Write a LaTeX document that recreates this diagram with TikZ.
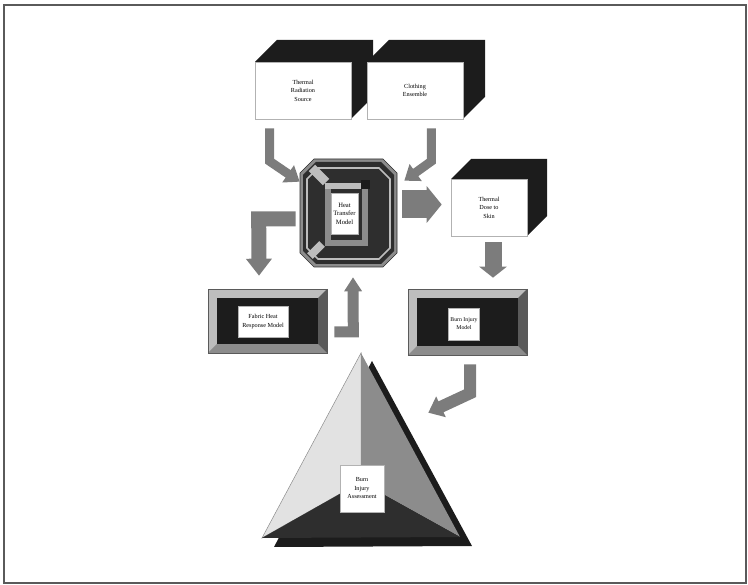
\documentclass[tikz,border=0pt]{standalone}
\usepackage{fontspec}
\setmainfont{Liberation Serif}
\usetikzlibrary{arrows.meta,calc}
\definecolor{sblack}{HTML}{1C1C1C}
\definecolor{sdark}{HTML}{2E2E2E}
\definecolor{sgrayd}{HTML}{5A5A5A}
\definecolor{sgray}{HTML}{8C8C8C}
\definecolor{slight}{HTML}{BDBDBD}
\definecolor{spale}{HTML}{E2E2E2}
\definecolor{arrgray}{HTML}{7C7C7C}
\tikzset{
  % white label face of every block
  face/.style  = {rectangle, draw=gray!60, fill=white, line width=0.6pt, align=center,
                  inner sep=0pt, font=\fontsize{6.2}{8.5}\selectfont},
  % block arrow: stem width, head width, head length
  arr/.style n args = {3}{draw=arrgray, line width=#1, line join=miter,
                  -{Triangle[width=#2, length=#3]}},
  chip/.style  = {rectangle, inner sep=0pt, fill=#1},
}
% dark back of an extruded box: front x1 y1 x2 y2, depth
\newcommand{\cubeback}[5]{%
  \fill[sblack] (#1,#2) -- ({#1+#5},{#2-#5}) -- ({#3+#5},{#2-#5}) -- ({#3+#5},{#4-#5})
    -- (#3,#4) -- (#3,#2) -- cycle;}
% bevelled frame: outer x1 y1 x2 y2, bevel
\newcommand{\bevelframe}[5]{%
  \fill[slight] (#1,#2) rectangle (#3,#4);
  \fill[sgray] (#1,#4) -- (#3,#4) -- ({#3-#5},{#4-#5}) -- ({#1+#5},{#4-#5}) -- cycle;
  \fill[sgrayd] (#3,#2) -- (#3,#4) -- ({#3-#5},{#4-#5}) -- ({#3-#5},{#2+#5}) -- cycle;
  \fill[sblack] ({#1+#5},{#2+#5}) rectangle ({#3-#5},{#4-#5});
  \draw[sgrayd, line width=0.6pt] (#1,#2) rectangle (#3,#4);}
% octagon: style, x1 y1 x2 y2, corner cut
\newcommand{\octo}[6]{%
  \path[#1] ({#2+#6},#3) -- ({#4-#6},#3) -- (#4,{#3+#6}) -- (#4,{#5-#6})
    -- ({#4-#6},#5) -- ({#2+#6},#5) -- (#2,{#5-#6}) -- (#2,{#3+#6}) -- cycle;}

\begin{document}
\begin{tikzpicture}[x=1pt,y=-1pt]
\useasboundingbox (0,0) rectangle (748,585);
\draw[line width=1.3pt, sgrayd] (4,5) rectangle (746,583);

% top row
\cubeback{255}{62}{351}{119}{22}
\node[face, minimum width=96pt, minimum height=57pt] (trs) at (303,90.5) {Thermal\\Radiation\\Source};
\cubeback{367}{62}{463}{119}{22}
\node[face, minimum width=96pt, minimum height=57pt] (clo) at (415,90.5) {Clothing\\Ensemble};

% heat transfer model
\octo{fill=sgray, draw=sdark, line width=0.6pt}{300}{159}{397}{267}{14}
\octo{fill=sdark}{303}{162}{394}{264}{13}
\octo{draw=slight, line width=1.6pt}{307}{168}{390}{259}{11}
\draw[sgray, line width=6pt] (328,186) rectangle (365,243);
\draw[slight, line width=6pt] (325,186) -- (368,186);
\node[chip=slight, rotate=-45, minimum width=20pt, minimum height=9pt] (c1) at (319,175) {};
\node[chip=slight, rotate=45, minimum width=17pt, minimum height=8pt] (c2) at (316,250) {};
\node[chip=sblack, minimum width=9pt, minimum height=9pt] (c3) at (365,185) {};
\node[face, minimum width=27pt, minimum height=41pt, font=\fontsize{6.6}{8.5}\selectfont] (htm) at (344.5,213.5) {Heat\\Transfer\\Model};

% thermal dose
\cubeback{451}{179}{527}{236}{20}
\node[face, minimum width=76pt, minimum height=57pt] (tds) at (489,207.5) {Thermal\\Dose to\\Skin};

% bevelled models
\bevelframe{208}{289}{327}{353}{9}
\node[face, minimum width=50pt, minimum height=31pt] (fhr) at (263,321.5) {Fabric Heat\\Response Model};
\bevelframe{408}{289}{527}{355}{9}
\node[face, minimum width=31pt, minimum height=32pt, font=\fontsize{5.8}{8}\selectfont] (bim) at (464,324) {Burn Injury\\Model};

% pyramid
\fill[sblack] (372,361) -- (274,547) -- (472,546) -- cycle;
\fill[spale, draw=sgray, line width=0.5pt] (361,353) -- (262,538) -- (361,482) -- cycle;
\fill[sgray] (361,353) -- (361,482) -- (460,537) -- cycle;
\fill[sdark] (262,538) -- (361,482) -- (460,537) -- cycle;
\node[face, minimum width=44pt, minimum height=47pt] (bia) at (362,488.5) {Burn\\Injury\\Assessment};

% arrows
\draw[arr={9pt}{20pt}{14pt}] ($(trs.south west)+(15,9)$) -- ++(0,33) -- ($(htm.north west)+(-31,-11)$);
\draw[arr={9pt}{20pt}{14pt}] ($(clo.south east)+(-32,9)$) -- ++(0,33) -- ($(htm.north east)+(46,-12)$);
\draw[arr={28pt}{36pt}{15pt}] ($(htm.east)+(44,-9)$) -- ($(tds.west)+(-9,-3)$);
\draw[arr={17pt}{27pt}{11pt}] ($(tds.south)+(4,6)$) -- ($(bim.north)+(29,-30)$);
\draw[arr={15pt}{25pt}{17pt}] ($(htm.west)+(-35,5.5)$) -- ++(-37,0) -- ($(fhr.north)+(-4,-30)$);
\draw[arr={11pt}{17pt}{14pt}] ($(fhr.east)+(46,10.5)$) -- ++(19,0) -- ($(htm.south)+(8.5,43)$);
\draw[arr={12pt}{22pt}{14pt}] ($(bim.south)+(6,24)$) -- ++(0,29) -- ($(bia.north east)+(44,-52)$);
\end{tikzpicture}
\end{document}
